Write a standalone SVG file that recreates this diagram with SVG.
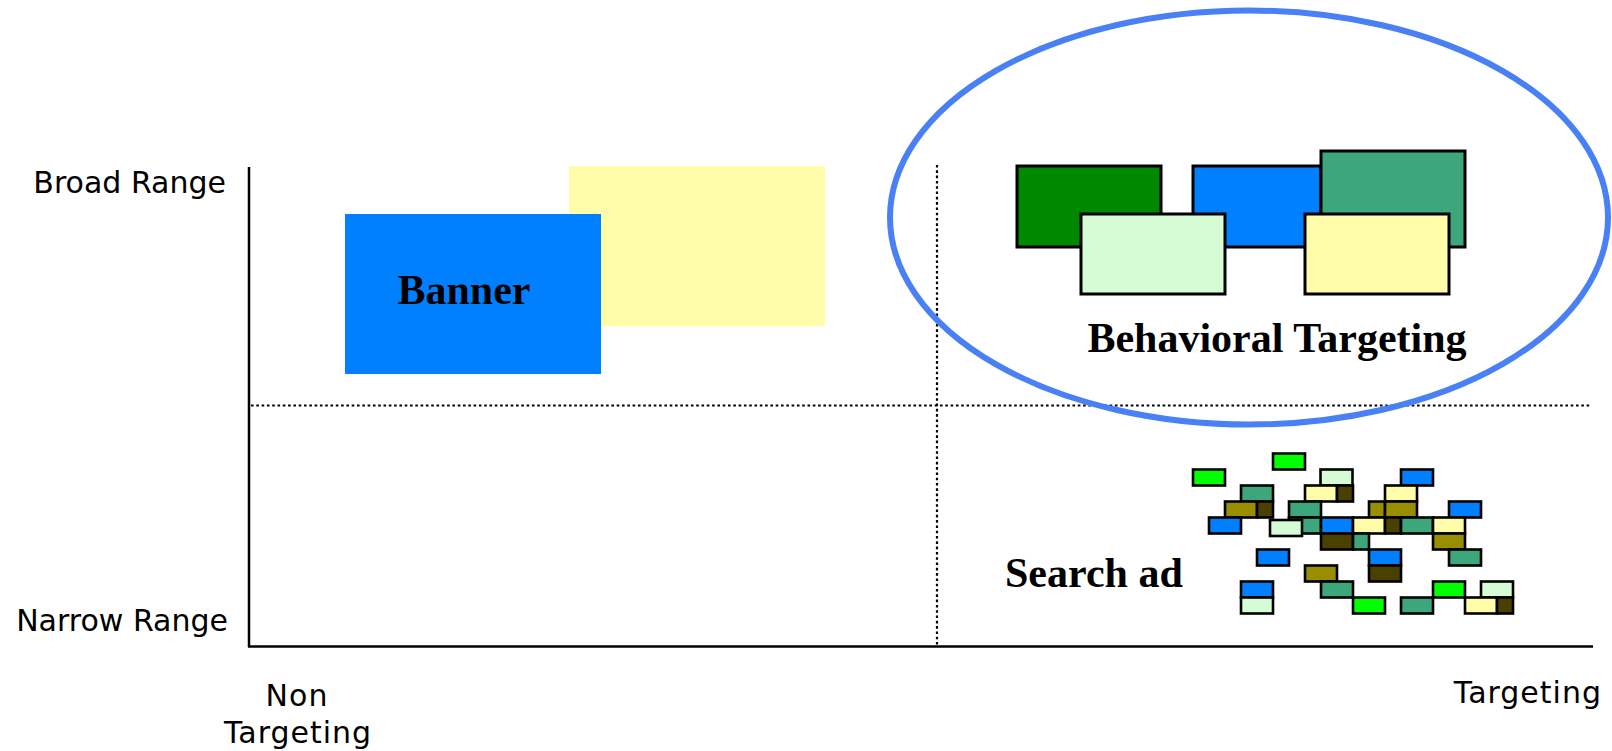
<svg xmlns="http://www.w3.org/2000/svg" width="1612" height="751" viewBox="0 0 1612 751">
<defs>
<style>
.lbl{font-family:"DejaVu Sans","Liberation Sans",sans-serif;font-size:30px;fill:#000}
.ls{letter-spacing:1px}
.big{font-family:"Liberation Serif","Times New Roman",serif;font-size:42px;font-weight:bold;fill:#000}
.bt{stroke:#000;stroke-width:3}
.sm{stroke:#000;stroke-width:2.6}
.dot{stroke:#000;stroke-width:2.2;stroke-dasharray:2.6 2.7;fill:none}
.axis{stroke:#000;stroke-width:2.5;fill:none}
.blue{fill:#0080ff}.yel{fill:#fffcaa}.dg{fill:#008800}.teal{fill:#3da67a}.lg{fill:#d5fcd5}.gr{fill:#00ff00}.ol{fill:#998e00}.dol{fill:#4a4000}
</style>
</defs>
<rect width="1612" height="751" fill="#fff"/>

<g id="axes">
<line class="axis" x1="249" y1="167" x2="249" y2="647"/>
<line class="axis" x1="248" y1="646.5" x2="1593" y2="646.5"/>
<line class="dot" x1="251" y1="405.5" x2="1591" y2="405.5"/>
<line class="dot" x1="937" y1="165" x2="937" y2="645"/>
</g>

<g id="axis-labels">
<text class="lbl" x="226" y="193" text-anchor="end">Broad Range</text>
<text class="lbl" x="228" y="631" text-anchor="end">Narrow Range</text>
<text class="lbl ls" x="297" y="706" text-anchor="middle">Non</text>
<text class="lbl ls" x="298" y="743" text-anchor="middle">Targeting</text>
<text class="lbl ls" x="1602" y="703" text-anchor="end">Targeting</text>
</g>

<g id="banner">
<rect class="yel" x="569" y="166" width="256" height="160"/>
<rect class="blue" x="345" y="214" width="256" height="160"/>
<text class="big" x="464" y="304" text-anchor="middle">Banner</text>
</g>

<g id="behavioral-targeting">
<rect class="dg bt" x="1017" y="166" width="144" height="81"/>
<rect class="blue bt" x="1193" y="166" width="128" height="81"/>
<rect class="teal bt" x="1321" y="151" width="144" height="96"/>
<rect class="lg bt" x="1081" y="214" width="144" height="80"/>
<rect class="yel bt" x="1305" y="214" width="144" height="80"/>
<text class="big" x="1277" y="352" text-anchor="middle">Behavioral Targeting</text>
<ellipse cx="1249" cy="217.5" rx="359" ry="207" fill="none" stroke="#4a80f5" stroke-width="6"/>
</g>

<g id="search-ad">
<g class="sm">
<rect class="gr" x="1193" y="469.5" width="32" height="16"/>
<rect class="gr" x="1273" y="453.5" width="32" height="16"/>
<rect class="lg" x="1320.5" y="469.5" width="32" height="16"/>
<rect class="blue" x="1401" y="469.5" width="32" height="16"/>
<rect class="teal" x="1241" y="485.5" width="32" height="16"/>
<rect class="yel" x="1305" y="485.5" width="32" height="16"/>
<rect class="dol" x="1337" y="485.5" width="16" height="16"/>
<rect class="yel" x="1385" y="485.5" width="32" height="16"/>
<rect class="ol" x="1225" y="501.5" width="32" height="16"/>
<rect class="dol" x="1257" y="501.5" width="16" height="16"/>
<rect class="teal" x="1289" y="501.5" width="32" height="16"/>
<rect class="ol" x="1369" y="501.5" width="16" height="16"/>
<rect class="ol" x="1385" y="501.5" width="32" height="16"/>
<rect class="blue" x="1449" y="501.5" width="32" height="16"/>
<rect class="blue" x="1209" y="517.5" width="32" height="16"/>
<rect class="teal" x="1289" y="517.5" width="32" height="16"/>
<rect class="lg" x="1270" y="520" width="32" height="16"/>
<rect class="blue" x="1321" y="517.5" width="32" height="16"/>
<rect class="yel" x="1353" y="517.5" width="32" height="16"/>
<rect class="dol" x="1385" y="517.5" width="16" height="16"/>
<rect class="teal" x="1401" y="517.5" width="32" height="16"/>
<rect class="yel" x="1433" y="517.5" width="32" height="16"/>
<rect class="dol" x="1321" y="533.5" width="32" height="16"/>
<rect class="teal" x="1353" y="533.5" width="16" height="16"/>
<rect class="ol" x="1433" y="533.5" width="32" height="16"/>
<rect class="blue" x="1257" y="549.5" width="32" height="16"/>
<rect class="blue" x="1369" y="549.5" width="32" height="16"/>
<rect class="teal" x="1449" y="549.5" width="32" height="16"/>
<rect class="ol" x="1305" y="565.5" width="32" height="16"/>
<rect class="dol" x="1369" y="565.5" width="32" height="16"/>
<rect class="blue" x="1241" y="581.5" width="32" height="16"/>
<rect class="teal" x="1321" y="581.5" width="32" height="16"/>
<rect class="gr" x="1433" y="581.5" width="32" height="16"/>
<rect class="lg" x="1481" y="581.5" width="32" height="16"/>
<rect class="lg" x="1241" y="597.5" width="32" height="16"/>
<rect class="gr" x="1353" y="597.5" width="32" height="16"/>
<rect class="teal" x="1401" y="597.5" width="32" height="16"/>
<rect class="yel" x="1465" y="597.5" width="32" height="16"/>
<rect class="dol" x="1497" y="597.5" width="16" height="16"/>
</g>
<text class="big" x="1005" y="587">Search ad</text>
</g>
</svg>
